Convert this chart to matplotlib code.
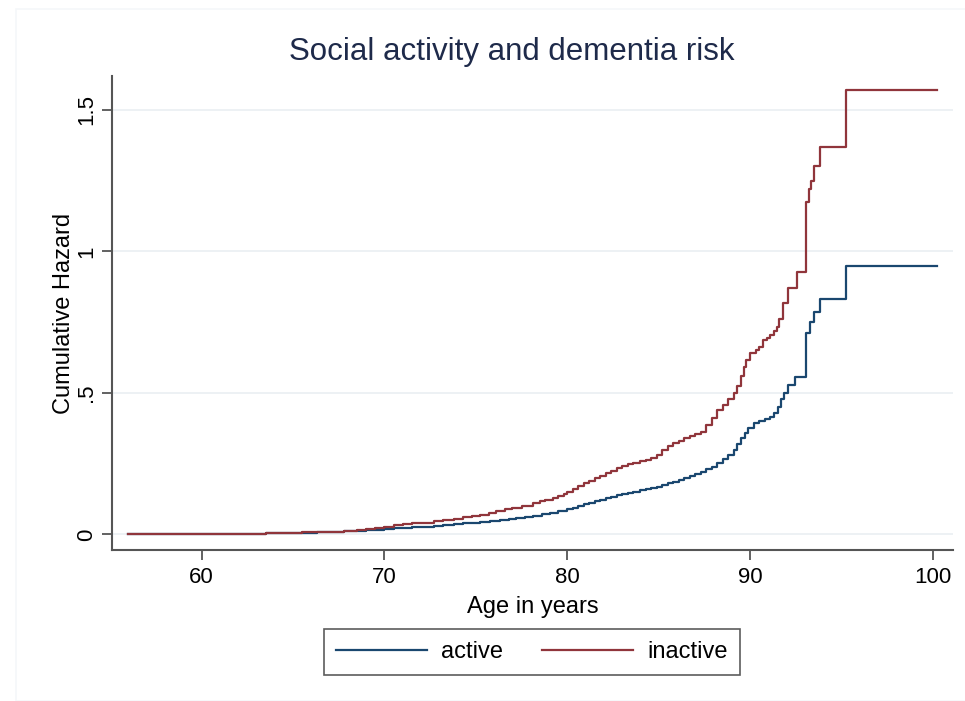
import matplotlib.pyplot as plt

# Nelson-Aalen cumulative hazard by social activity group
age_active = [56.0, 57.5, 59.0, 60.5, 62.0, 63.5, 64.5, 65.5, 66.3, 67.0, 67.8, 68.5,
              69.0, 69.5, 70.0, 70.5, 71.0, 71.5, 72.0, 72.7, 73.2, 73.8, 74.3, 74.8,
              75.2, 75.8, 76.3, 76.8, 77.2, 77.7, 78.1, 78.6, 79.06, 79.5, 80.0, 80.3,
              80.6, 80.9, 81.2, 81.5, 81.8, 82.1, 82.4, 82.7, 83.0, 83.3, 83.6, 84.0,
              84.3, 84.6, 84.9, 85.2, 85.5, 85.8, 86.1, 86.4, 86.7, 87.0, 87.3, 87.6,
              87.9, 88.2, 88.5, 88.8, 89.1, 89.3, 89.5, 89.7, 89.9, 90.2, 90.5, 90.8,
              91.1, 91.3, 91.5, 91.7, 91.83, 92.1, 92.46, 93.07, 93.25, 93.47, 93.8,
              95.24, 100.2]
haz_active = [0.0, 0.0005, 0.001, 0.002, 0.003, 0.004, 0.005, 0.006, 0.008, 0.009, 0.011, 0.013,
              0.015, 0.017, 0.020, 0.022, 0.024, 0.026, 0.028, 0.031, 0.034, 0.037, 0.040, 0.042,
              0.045, 0.048, 0.051, 0.055, 0.058, 0.062, 0.065, 0.071, 0.077, 0.082, 0.089, 0.094,
              0.100, 0.108, 0.112, 0.117, 0.122, 0.127, 0.133, 0.139, 0.143, 0.147, 0.151, 0.156,
              0.160, 0.164, 0.169, 0.175, 0.181, 0.187, 0.193, 0.200, 0.205, 0.213, 0.222, 0.230,
              0.240, 0.253, 0.265, 0.282, 0.300, 0.318, 0.340, 0.360, 0.375, 0.394, 0.400, 0.408,
              0.416, 0.430, 0.452, 0.480, 0.500, 0.528, 0.558, 0.712, 0.750, 0.787, 0.831,
              0.949, 0.949]

age_inactive = [56.0, 57.5, 59.0, 60.5, 62.0, 63.5, 64.5, 65.5, 66.3, 67.0, 67.8, 68.5,
                69.0, 69.5, 70.0, 70.5, 71.0, 71.5, 72.0, 72.7, 73.2, 73.8, 74.3, 74.8,
                75.2, 75.7, 76.1, 76.6, 77.0, 77.5, 78.1, 78.5, 78.8, 79.2, 79.5, 79.8,
                80.0, 80.3, 80.6, 80.9, 81.2, 81.5, 81.8, 82.1, 82.4, 82.7, 83.0, 83.3,
                83.6, 84.0, 84.3, 84.6, 84.9, 85.2, 85.5, 85.8, 86.1, 86.4, 86.7, 87.0,
                87.3, 87.6, 87.9, 88.2, 88.5, 88.8, 89.1, 89.3, 89.5, 89.65, 89.8, 90.0,
                90.3, 90.5, 90.7, 90.9, 91.1, 91.3, 91.46, 91.6, 91.8, 92.08, 92.56, 93.07,
                93.2, 93.35, 93.52, 93.8, 95.24, 100.2]
haz_inactive = [0.0, 0.0005, 0.001, 0.002, 0.003, 0.004, 0.005, 0.007, 0.009, 0.010, 0.013, 0.016,
                0.019, 0.023, 0.028, 0.033, 0.037, 0.040, 0.042, 0.046, 0.051, 0.056, 0.061, 0.066,
                0.070, 0.076, 0.083, 0.089, 0.095, 0.102, 0.110, 0.118, 0.123, 0.130, 0.136, 0.143,
                0.151, 0.159, 0.170, 0.183, 0.190, 0.199, 0.207, 0.216, 0.225, 0.234, 0.241, 0.248,
                0.254, 0.259, 0.263, 0.270, 0.282, 0.298, 0.312, 0.322, 0.331, 0.340, 0.349, 0.356,
                0.363, 0.385, 0.413, 0.440, 0.458, 0.478, 0.499, 0.525, 0.560, 0.593, 0.618, 0.640,
                0.652, 0.662, 0.687, 0.695, 0.705, 0.720, 0.734, 0.760, 0.818, 0.871, 0.929, 1.176,
                1.220, 1.250, 1.302, 1.370, 1.571, 1.571]

yticks = [0, 0.5, 1, 1.5]
ytick_labels = ["0", ".5", "1", "1.5"]
xticks = [60, 70, 80, 90, 100]

plt.rcParams["font.family"] = ["Liberation Sans", "DejaVu Sans"]

fig = plt.figure(figsize=(9.65, 7.01), dpi=100)
ax = fig.add_axes([0.1161, 0.2154, 0.8715, 0.6762])

# faint outer frame of the graph region
fig.add_artist(plt.Rectangle((16 / 965, 0), 1, 1 - 9 / 701, transform=fig.transFigure,
                             fill=False, edgecolor="#f5f7f9", linewidth=1.2))

ax.step(age_active, haz_active, where="post", color="#1a476f", linewidth=1.6, label="active")
ax.step(age_inactive, haz_inactive, where="post", color="#90353b", linewidth=1.6, label="inactive")

ax.set_xlim(55.1, 101.1)
ax.set_ylim(-0.055, 1.62)
ax.set_xticks(xticks)
ax.set_yticks(yticks)
ax.set_yticklabels(ytick_labels, rotation=90, va="center")
ax.tick_params(axis="both", labelsize=16, length=7, width=1.3, color="#555555", direction="out")
ax.tick_params(axis="x", pad=5)
ax.grid(axis="y", color="#e8edf1", linewidth=1.1)
ax.set_axisbelow(True)

for side in ["top", "right"]:
    ax.spines[side].set_visible(False)
for side in ["left", "bottom"]:
    ax.spines[side].set_color("#555555")
    ax.spines[side].set_linewidth(1.5)

ax.set_xlabel("Age in years", fontsize=17, labelpad=6)
ax.set_ylabel("Cumulative Hazard", fontsize=17, labelpad=1)

fig.text(512 / 965, 1 - 52 / 701, "Social activity and dementia risk", fontsize=22.5,
         color="#1e2a4a", ha="center", va="center")

leg = ax.legend(loc="center", bbox_to_anchor=(532 / 965, 1 - 652 / 701), bbox_transform=fig.transFigure,
                ncol=2, fontsize=17, frameon=True, fancybox=False, handlelength=3.85,
                handletextpad=0.6, columnspacing=1.65, borderpad=0.5)
leg.get_frame().set_edgecolor("#333333")
leg.get_frame().set_linewidth(1.2)

fig.savefig("out.png", dpi=100)
